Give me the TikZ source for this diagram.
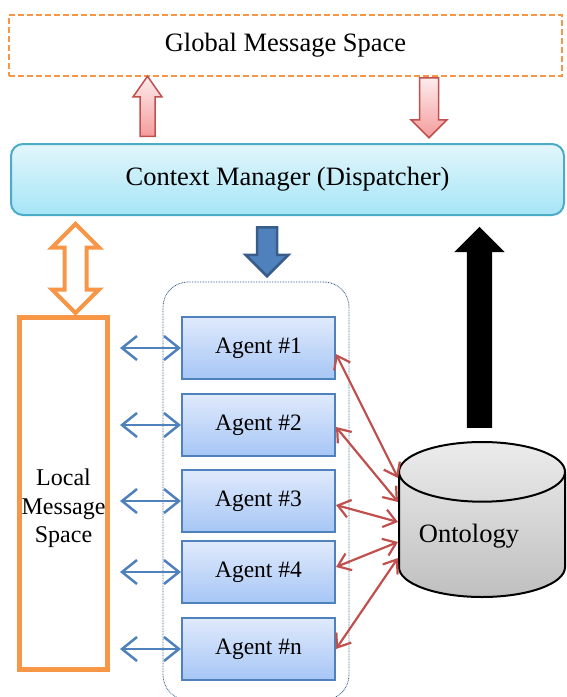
\documentclass[tikz,border=0pt]{standalone}
\usepackage{fontspec}
\setmainfont{Liberation Serif}
\usetikzlibrary{arrows.meta,shapes.arrows,shapes.geometric}
\definecolor{msgorange}{HTML}{F79646}
\definecolor{cmborder}{HTML}{4BACC6}
\definecolor{cmtop}{HTML}{E2F6FB}
\definecolor{cmbottom}{HTML}{A6E5F7}
\definecolor{agentborder}{HTML}{4F81BD}
\definecolor{agenttop}{HTML}{E0EAFC}
\definecolor{agentbottom}{HTML}{A6C6F5}
\definecolor{darkblue}{HTML}{385D8A}
\definecolor{linkred}{HTML}{C0504D}
\definecolor{pinktop}{HTML}{FDECEC}
\definecolor{pinkbottom}{HTML}{F59C9C}
\tikzset{
	bigfont/.style={font=\fontsize{26.5}{30}\selectfont},
	agent/.style={draw=agentborder, line width=2pt, top color=agenttop, bottom color=agentbottom, minimum width=153, minimum height=62, font=\fontsize{23.5}{26}\selectfont},
	pinkarrow/.style={single arrow, draw=linkred, line width=1.5pt, top color=pinktop, bottom color=pinkbottom},
	lmslink/.style={draw=agentborder, line width=2.5pt, {Straight Barb[length=15pt,width=24pt]}-{Straight Barb[length=15pt,width=24pt]}},
	agentlink/.style={draw=linkred, line width=2.2pt, {Straight Barb[length=12pt,width=18pt]}-{Straight Barb[length=12pt,width=18pt]}}
}

\begin{document}
\begin{tikzpicture}[x=1pt, y=-1pt]
	\useasboundingbox (0,0) rectangle (566,697);

	\node[draw=msgorange, line width=2pt, dash pattern=on 6pt off 3pt, minimum width=553, minimum height=61, bigfont] at (285.5,45.5) (gms) {Global Message Space};
	\node[draw=cmborder, line width=2pt, rounded corners=12pt, top color=cmtop, bottom color=cmbottom, minimum width=553, minimum height=71, bigfont] at (287.5,179.5) (cm) {Context Manager (Dispatcher)};

	\node[pinkarrow, shape border rotate=90, single arrow tip angle=70, inner sep=6.75pt, minimum height=60, minimum width=28, single arrow head extend=7pt, anchor=tail] at (147.5,137) (up-arrow) {};
	\node[pinkarrow, shape border rotate=270, single arrow tip angle=90, inner sep=8.75pt, minimum height=60, minimum width=35, single arrow head extend=8.5pt, anchor=tail] at (429,77) (down-arrow) {};

	\node[draw=msgorange, line width=5pt, minimum width=88, minimum height=352, label={[align=center, font=\fontsize{24}{28.5}\selectfont, yshift=-15pt]center:Local\\Message\\Space}] at (63.5,493.5) (lms) {};
	\node[double arrow, draw=msgorange, fill=white, line width=4pt, shape border rotate=90, double arrow tip angle=90, inner sep=9pt, minimum height=89, minimum width=43, double arrow head extend=12.5pt] at (75.5,268.5) (lms-arrow) {};

	\node[single arrow, draw=darkblue, fill=agentborder, line width=2.5pt, shape border rotate=270, single arrow tip angle=90, inner sep=8.75pt, minimum height=49, minimum width=41, single arrow head extend=11.5pt, anchor=tail] at (267,226) (dispatch-arrow) {};

	\node[draw=darkblue, line width=0.8pt, dash pattern=on 0.8pt off 0.8pt, rounded corners=25pt, minimum width=186, minimum height=418] at (256,491) (agents) {};

	\node[agent] at (258.5,348) (agent-1) {Agent \#1};
	\node[agent] at (258.5,425) (agent-2) {Agent \#2};
	\node[agent] at (258.5,501) (agent-3) {Agent \#3};
	\node[agent] at (258.5,572) (agent-4) {Agent \#4};
	\node[agent] at (258.5,649) (agent-n) {Agent \#n};

	\node[cylinder, shape border rotate=90, aspect=0.56, draw=black, line width=2pt, top color=gray!15, bottom color=gray!50, inner xsep=53.3pt, inner ysep=15.3pt, minimum width=166, minimum height=155, anchor=north, label={[bigfont, xshift=-13pt, yshift=13pt]center:Ontology}] at (482,441) (ontology) {};

	\node[single arrow, fill=black, shape border rotate=90, single arrow tip angle=90, inner sep=12.5pt, minimum height=201, minimum width=50, single arrow head extend=12.5pt, anchor=tail] at (479.5,428) (feed-arrow) {};

	% local message space <-> agents
	\foreach \a in {1,2,3,4,n}
		\draw[lmslink, shorten <=10pt] (lms.east |- agent-\a.west) -- (agent-\a.west);

	% agents <-> ontology
	\draw[agentlink] ([yshift=-6pt]agent-1.east) -- (ontology.west |- 0,478);
	\draw[agentlink] ([yshift=-2pt]agent-2.east) -- (ontology.west |- 0,502);
	\draw[agentlink] ([yshift=-4pt]agent-3.east) -- (ontology.west |- 0,522);
	\draw[agentlink] ([yshift=5pt]agent-4.east) -- (ontology.west |- 0,542);
	\draw[agentlink] (agent-n.east) -- (ontology.west |- 0,558);
\end{tikzpicture}
\end{document}
